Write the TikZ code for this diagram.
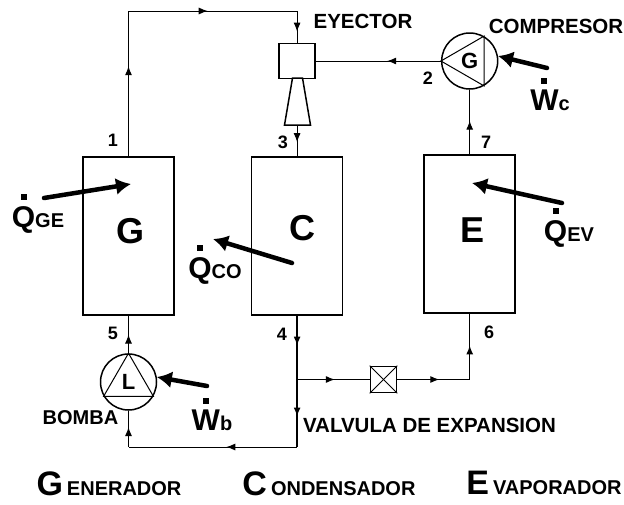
\documentclass[tikz,border=0pt]{standalone}
\usepackage{fontspec}
\setmainfont{Liberation Sans}
\usepackage{tikz}
\usetikzlibrary{positioning, arrows.meta, decorations.markings}
\tikzset{>={Latex[width=2mm,length=2mm]}}
\tikzset{flow/.style={postaction={decorate}, decoration={markings, mark=at position #1 with {\arrow{Latex[width=7pt,length=9pt]}}}}}
\newcommand{\dotsym}[1]{\vbox{\offinterlineskip\halign{\hfil##\hfil\cr\rule{6pt}{6pt}\cr\noalign{\kern6pt}#1\cr}}}
\newcommand{\fluxlabel}[2]{\dotsym{\fontsize{30}{30}\selectfont #1}{\fontsize{20}{20}\selectfont #2}}
\newcommand{\caplabel}[2]{{\fontsize{34}{34}\selectfont #1}\kern4pt{\fontsize{20}{20}\selectfont #2}}

\begin{document}
\begin{tikzpicture}[x=1pt, y=-1pt, font=\bfseries, line width=1pt,
    unitnode/.style={rectangle, draw=black, line width=1.6pt, minimum width=91pt, minimum height=158pt, inner sep=0pt},
    machinenode/.style={circle, draw=black, line width=1.5pt, minimum size=56pt, inner sep=0pt, font=\bfseries\fontsize{22}{22}\selectfont},
    emptynode/.style={draw=none, fill=none, inner sep=0pt},
    biglabel/.style={emptynode, font=\bfseries\fontsize{36}{36}\selectfont},
    numnode/.style={emptynode, font=\bfseries\fontsize{18}{18}\selectfont},
    namenode/.style={emptynode, font=\bfseries\fontsize{20.5}{20.5}\selectfont},
    heat/.style={-{Latex[width=17pt,length=15pt]}, line width=4.5pt, line cap=round}]
    \useasboundingbox (0,0) rectangle (624,504);

    %Nodes
    \node[unitnode](gen) at (128.5,236){};
    \node[unitnode](cond)[right=76pt of gen]{};
    \node[unitnode](evap)[right=80pt of cond, yshift=2pt]{};
    \node[machinenode](comp) at (evap.north |- 0,61){G};
    \node[machinenode](pump) at (gen.south |- 0,382){L};
    \node[rectangle, draw=black, line width=1.5pt, minimum width=36pt, minimum height=35pt, inner sep=0pt](mixer) at (cond.north |- 0,61){};
    \node[rectangle, draw=black, line width=1.6pt, minimum size=26pt, inner sep=0pt](valve) at (383.5,379.5){};

    \coordinate (topleft) at (gen.north |- 0,11);
    \coordinate (topright) at (mixer.north |- 0,11);
    \coordinate (split) at (cond.south |- valve.west);
    \coordinate (return) at (cond.south |- 0,447);
    \coordinate (pumpcorner) at (pump.south |- 0,447);
    \coordinate (evapcorner) at (evap.south |- valve.east);
    \coordinate (diff_a) at (292.5,78);
    \coordinate (diff_b) at (302.5,78);
    \coordinate (diff_c) at (310.5,125);
    \coordinate (diff_d) at (284.5,125);
    \coordinate (diff_out) at (cond.north |- 0,125);

    \node[biglabel](gen_label) at (131,231){G};
    \node[biglabel](cond_label) at (302,228){C};
    \node[biglabel](evap_label) at (473,230){E};

    \node[namenode](eyector_text) at (363,21){EYECTOR};
    \node[namenode](comp_text) at (556,26){COMPRESOR};
    \node[namenode, font=\bfseries\fontsize{20}{20}\selectfont](pump_text) at (80.5,418){BOMBA};
    \node[namenode](valve_text) at (429.5,425){VALVULA DE EXPANSION};
    \node[numnode](num1) at (113,140){1};
    \node[numnode](num2) at (428,78){2};
    \node[numnode](num3) at (283,142){3};
    \node[numnode](num4) at (282,334){4};
    \node[numnode](num5) at (113,333){5};
    \node[numnode](num6) at (489,332){6};
    \node[numnode](num7) at (486,142){7};

    \node[emptynode](q_ge) at (38,213.5){\fluxlabel{Q}{GE}};
    \node[emptynode](q_co) at (215,264.5){\fluxlabel{Q}{CO}};
    \node[emptynode](q_ev) at (569,227.5){\fluxlabel{Q}{EV}};
    \node[emptynode](w_c) at (550,94){\fluxlabel{W}{c}};
    \node[emptynode](w_b) at (212,414){\fluxlabel{W}{b}};

    \node[emptynode](gen_text) at (109,484){\caplabel{G}{ENERADOR}};
    \node[emptynode](cond_text) at (329,484){\caplabel{C}{ONDENSADOR}};
    \node[emptynode](evap_text) at (544,483){\caplabel{E}{VAPORADOR}};

    \coordinate (ge_start) at (44,198);
    \coordinate (ge_end) at (131,184);
    \coordinate (co_start) at (292,263);
    \coordinate (co_end) at (213,239);
    \coordinate (ev_start) at (562,203);
    \coordinate (ev_end) at (472,183);
    \coordinate (wc_start) at (547,68);
    \coordinate (wb_start) at (207,386);

    %Lines
    \draw[flow=0.62] (gen.north) -- (topleft);
    \draw[flow=0.47] (topleft) -- (topright);
    \draw[flow=0.65] (topright) -- (mixer.north);
    \draw[line width=1.5pt] (diff_a) -- (diff_b) -- (diff_c) -- (diff_d) -- cycle;
    \draw[flow=0.55] (diff_out) -- (cond.north);
    \draw[flow=0.43] (comp.west) -- (mixer.east);
    \draw[flow=0.52] (evap.north) -- (comp.south);
    \draw[flow=0.5] (pump.north) -- (gen.south);
    \draw[line width=2pt, flow=0.47] (cond.south) -- (split);
    \draw[line width=2pt, flow=0.55] (split) -- (return);
    \draw[flow=0.42] (return) -- (pumpcorner);
    \draw[flow=0.55] (pumpcorner) -- (pump.south);
    \draw[flow=0.52] (split) -- (valve.west);
    \draw[flow=0.58] (valve.east) -- (evapcorner);
    \draw[line width=1.5pt, flow=0.52] (evapcorner) -- (evap.south);

    \draw (comp.180) -- (comp.60) -- (comp.-60) -- cycle;
    \draw (pump.90) -- (pump.210) -- (pump.330) -- cycle;
    \draw (valve.north west) -- (valve.south east);
    \draw (valve.north east) -- (valve.south west);

    \draw[heat] (ge_start) -- (ge_end);
    \draw[heat] (co_start) -- (co_end);
    \draw[heat] (ev_start) -- (ev_end);
    \draw[heat] (wc_start) -- (comp.10);
    \draw[heat] (wb_start) -- (pump.10);
\end{tikzpicture}
\end{document}
